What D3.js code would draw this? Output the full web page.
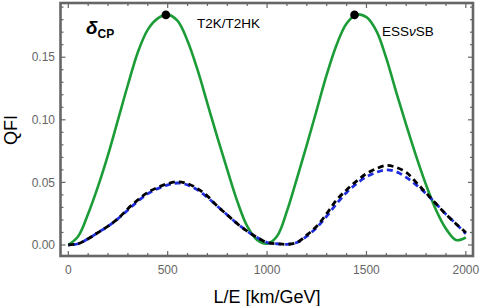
<!DOCTYPE html>
<html><head><meta charset="utf-8">
<script src="https://cdn.jsdelivr.net/npm/d3@7"></script>
<style>body{margin:0;background:#fff}svg{display:block}</style>
</head><body>
<svg id="c" width="480" height="306"></svg>
<script>
const LE = [0,50,100,150,200,250,300,350,400,450,500,550,600,650,700,750,800,850,900,950,1000,1050,1100,1150,1200,1250,1300,1350,1400,1450,1500,1550,1600,1650,1700,1750,1800,1850,1900,1950,2000];
const green = [0,0.007,0.025,0.047,0.072,0.100,0.128,0.154,0.172,0.181,0.184,0.179,0.163,0.140,0.113,0.086,0.060,0.035,0.015,0.004,0.001,0.007,0.027,0.053,0.080,0.108,0.136,0.160,0.177,0.184,0.182,0.171,0.149,0.122,0.096,0.071,0.048,0.028,0.013,0.004,0.006];
const black = [0,0.001,0.005,0.010,0.015,0.021,0.029,0.036,0.042,0.046,0.049,0.0505,0.049,0.045,0.039,0.031,0.024,0.017,0.011,0.006,0.002,0.001,0.0005,0.002,0.008,0.015,0.025,0.036,0.044,0.051,0.057,0.061,0.0635,0.062,0.058,0.050,0.0415,0.033,0.0245,0.017,0.010];
const blue = [0,0.001,0.005,0.010,0.015,0.021,0.028,0.035,0.041,0.045,0.048,0.0495,0.048,0.044,0.038,0.031,0.024,0.017,0.011,0.006,0.002,0.001,0.0005,0.002,0.007,0.014,0.023,0.033,0.042,0.049,0.0545,0.058,0.060,0.0585,0.054,0.048,0.041,0.033,0.0245,0.017,0.009];
const peaks = [{x:491,y:0.1838,label:"T2K/T2HK"},{x:1440,y:0.1838,label:"ESS\u03BDSB"}];
const xMajor = [0,500,1000,1500,2000];
const yMajor = [0,0.05,0.10,0.15];

const svg = d3.select("#c");
const x = d3.scaleLinear().domain([-39.2,2036]).range([60.5,473]);
const y = d3.scaleLinear().domain([-0.0088,0.1933]).range([256,3]);
const gray = "#666";

// ticks
const xMinor = d3.range(0,2001,100);
const yMinor = d3.range(0,0.1901,0.01);
const tk = svg.append("g").attr("stroke",gray).attr("stroke-width",1.2);
xMinor.forEach(v=>{
  const L = xMajor.includes(v)?5:3;
  tk.append("line").attr("x1",x(v)).attr("x2",x(v)).attr("y1",256).attr("y2",256-L);
  tk.append("line").attr("x1",x(v)).attr("x2",x(v)).attr("y1",3).attr("y2",3+L);
});
yMinor.forEach(v=>{
  const maj = yMajor.some(m=>Math.abs(m-v)<1e-9);
  const L = maj?5:3;
  tk.append("line").attr("y1",y(v)).attr("y2",y(v)).attr("x1",60.5).attr("x2",60.5+L);
  tk.append("line").attr("y1",y(v)).attr("y2",y(v)).attr("x1",473).attr("x2",473-L);
});

// frame
svg.append("rect").attr("x",60.5).attr("y",3).attr("width",412.5).attr("height",253)
  .attr("fill","none").attr("stroke",gray).attr("stroke-width",2.6);

// tick labels
const fnt = "Liberation Sans, Arial, sans-serif";
svg.append("g").selectAll("text").data(xMajor).join("text")
  .attr("x",d=>x(d)).attr("y",273.5).attr("text-anchor","middle")
  .attr("font-family",fnt).attr("font-size",12).attr("fill",gray).text(d=>d);
svg.append("g").selectAll("text").data(yMajor).join("text")
  .attr("x",55).attr("y",d=>y(d)+4.2).attr("text-anchor","end")
  .attr("font-family",fnt).attr("font-size",12).attr("fill",gray).text(d=>d3.format(".2f")(d));

// axis titles
svg.append("text").attr("x",267).attr("y",302.5).attr("text-anchor","middle")
  .attr("font-family",fnt).attr("font-size",18).attr("fill","#000").text("L/E [km/GeV]");
svg.append("text").attr("transform","translate(16.5,130) rotate(-90)").attr("text-anchor","middle")
  .attr("font-family",fnt).attr("font-size",18).attr("fill","#000").text("QFI");

// curves
const mk = arr => d3.line().x((d,i)=>x(LE[i])).y(d=>y(d)).curve(d3.curveCatmullRom.alpha(0.5))(arr);
svg.append("path").attr("d",mk(green)).attr("fill","none").attr("stroke","#1c9c37").attr("stroke-width",2.6);
svg.append("path").attr("d",mk(blue)).attr("fill","none").attr("stroke","#1f2de0").attr("stroke-width",2.8)
  .attr("stroke-dasharray","6,4").attr("stroke-dashoffset",5);
svg.append("path").attr("d",mk(black)).attr("fill","none").attr("stroke","#000").attr("stroke-width",2.8)
  .attr("stroke-dasharray","6,4");

// peak dots
svg.append("g").selectAll("circle").data(peaks).join("circle")
  .attr("cx",d=>x(d.x)).attr("cy",d=>y(d.y)).attr("r",4.3).attr("fill","#000");

// labels
svg.append("text").attr("x",197).attr("y",28.3).attr("font-family",fnt).attr("font-size",13.5).text(peaks[0].label);
const t2 = svg.append("text").attr("x",382).attr("y",36).attr("font-family",fnt).attr("font-size",13.5);
t2.append("tspan").text("ESS");
t2.append("tspan").attr("font-style","italic").text("\u03BD");
t2.append("tspan").text("SB");

const dl = svg.append("text").attr("x",86).attr("y",34).attr("font-family",fnt).attr("font-weight","bold");
dl.append("tspan").attr("font-size",19).attr("font-style","italic").text("\u03B4");
dl.append("tspan").attr("font-size",12).attr("dy",4).text("CP");
</script>
</body></html>
